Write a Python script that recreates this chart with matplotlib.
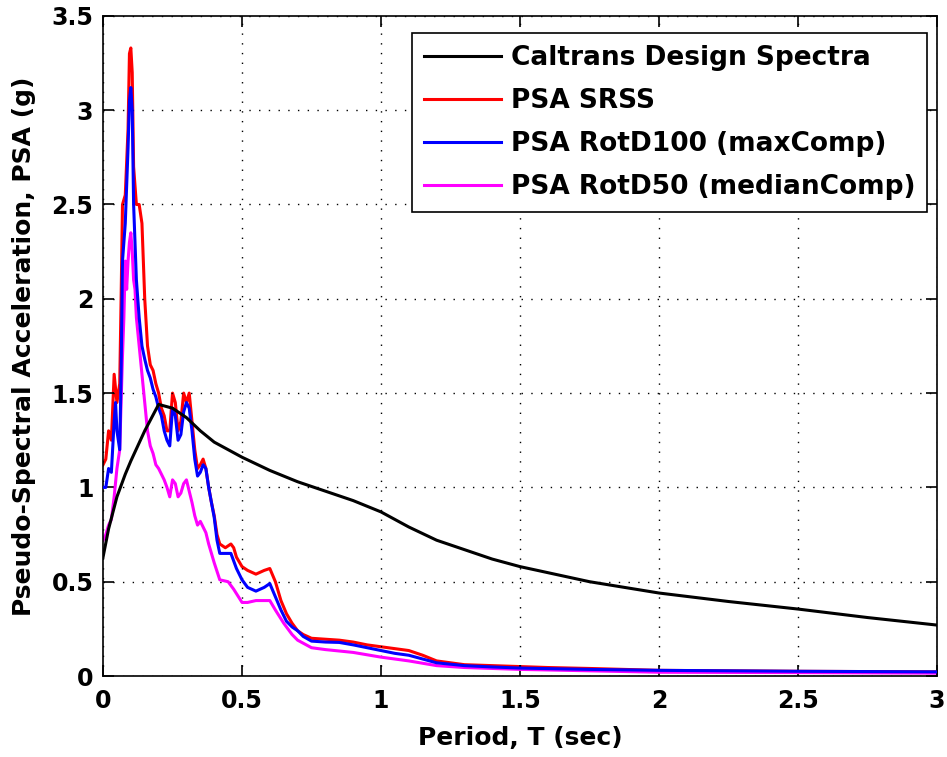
import matplotlib
matplotlib.use("Agg")
import matplotlib.pyplot as plt
from matplotlib.lines import Line2D

plt.rcParams['font.family'] = ['DejaVu Sans']
plt.rcParams['font.weight'] = 'bold'

# Caltrans design spectrum
T_design = [0.0, 0.02, 0.05, 0.08, 0.1, 0.15, 0.2, 0.25, 0.3, 0.35, 0.4, 0.5, 0.6, 0.7, 0.8,
            0.9, 1.0, 1.1, 1.2, 1.3, 1.4, 1.5, 1.75, 2.0, 2.25, 2.5, 2.75, 3.0]
psa_design = [0.63, 0.78, 0.95, 1.07, 1.14, 1.3, 1.44, 1.42, 1.37, 1.3, 1.24, 1.16, 1.09, 1.03, 0.98,
              0.93, 0.87, 0.79, 0.72, 0.67, 0.62, 0.58, 0.50, 0.44, 0.395, 0.355, 0.31, 0.27]

# PSA SRSS
T_srss = [0.0, 0.01, 0.02, 0.03, 0.04, 0.05, 0.06, 0.065, 0.07, 0.08, 0.09, 0.095, 0.1, 0.105, 0.11,
          0.12, 0.13, 0.14, 0.15, 0.16, 0.17, 0.18, 0.19, 0.2, 0.21, 0.22, 0.23, 0.24, 0.25, 0.26,
          0.27, 0.28, 0.29, 0.3, 0.31, 0.32, 0.33, 0.34, 0.35, 0.36, 0.37, 0.38, 0.39, 0.4, 0.41,
          0.42, 0.44, 0.46, 0.47, 0.48, 0.5, 0.52, 0.55, 0.58, 0.6, 0.62, 0.64, 0.66, 0.68, 0.7,
          0.72, 0.75, 0.8, 0.85, 0.9, 0.95, 1.0, 1.05, 1.1, 1.15, 1.2, 1.3, 1.4, 1.5, 1.6, 1.75,
          2.0, 2.5, 3.0]
psa_srss = [1.12, 1.15, 1.3, 1.25, 1.6, 1.45, 1.55, 2.0, 2.5, 2.55, 2.9, 3.3, 3.33, 3.2, 2.7,
            2.5, 2.5, 2.4, 2.0, 1.75, 1.65, 1.62, 1.55, 1.5, 1.42, 1.38, 1.3, 1.3, 1.5, 1.45,
            1.3, 1.35, 1.5, 1.45, 1.5, 1.35, 1.2, 1.1, 1.12, 1.15, 1.1, 1.0, 0.92, 0.85, 0.75,
            0.70, 0.68, 0.70, 0.68, 0.63, 0.58, 0.56, 0.54, 0.56, 0.57, 0.5, 0.40, 0.33, 0.28, 0.24,
            0.22, 0.20, 0.195, 0.19, 0.18, 0.165, 0.155, 0.145, 0.135, 0.11, 0.08, 0.06, 0.055, 0.05, 0.045, 0.04,
            0.03, 0.025, 0.022]

# PSA RotD100 (maxComp)
T_d100 = [0.0, 0.01, 0.02, 0.03, 0.04, 0.045, 0.05, 0.06, 0.065, 0.07, 0.08, 0.085, 0.09, 0.095, 0.1,
          0.105, 0.11, 0.115, 0.12, 0.13, 0.14, 0.15, 0.16, 0.17, 0.18, 0.19, 0.2, 0.21, 0.22, 0.23,
          0.24, 0.25, 0.26, 0.27, 0.28, 0.29, 0.3, 0.31, 0.32, 0.33, 0.34, 0.35, 0.36, 0.37, 0.38,
          0.39, 0.4, 0.41, 0.42, 0.44, 0.46, 0.48, 0.5, 0.52, 0.55, 0.58, 0.6, 0.62, 0.64, 0.66,
          0.68, 0.7, 0.72, 0.75, 0.8, 0.85, 0.9, 0.95, 1.0, 1.05, 1.1, 1.15, 1.2, 1.3, 1.4, 1.5,
          1.75, 2.0, 2.5, 3.0]
psa_d100 = [1.0, 1.0, 1.1, 1.08, 1.35, 1.45, 1.3, 1.2, 1.6, 2.2, 2.4, 2.6, 2.8, 3.05, 3.12,
            3.0, 2.5, 2.3, 2.1, 1.9, 1.75, 1.68, 1.62, 1.58, 1.52, 1.48, 1.42, 1.38, 1.3, 1.25,
            1.22, 1.42, 1.38, 1.25, 1.28, 1.4, 1.45, 1.42, 1.3, 1.15, 1.06, 1.08, 1.12, 1.1, 1.0,
            0.92, 0.84, 0.72, 0.65, 0.65, 0.65, 0.57, 0.51, 0.47, 0.45, 0.47, 0.49, 0.42, 0.35, 0.29,
            0.26, 0.24, 0.21, 0.185, 0.18, 0.178, 0.165, 0.15, 0.135, 0.12, 0.11, 0.09, 0.07, 0.055, 0.048, 0.042,
            0.035, 0.03, 0.025, 0.022]

# PSA RotD50 (medianComp)
T_d50 = [0.0, 0.01, 0.02, 0.03, 0.04, 0.05, 0.06, 0.065, 0.07, 0.075, 0.08, 0.085, 0.09, 0.095, 0.1,
         0.105, 0.11, 0.115, 0.12, 0.13, 0.14, 0.15, 0.16, 0.17, 0.18, 0.19, 0.2, 0.21, 0.22, 0.23,
         0.24, 0.25, 0.26, 0.27, 0.28, 0.29, 0.3, 0.31, 0.32, 0.33, 0.34, 0.35, 0.36, 0.37, 0.38,
         0.4, 0.42, 0.45, 0.47, 0.5, 0.52, 0.55, 0.6, 0.62, 0.65, 0.68, 0.7, 0.75, 0.8, 0.9,
         1.0, 1.05, 1.1, 1.2, 1.3, 1.5, 2.0, 2.5, 3.0]
psa_d50 = [0.72, 0.75, 0.8, 0.83, 0.95, 1.1, 1.2, 1.45, 1.7, 1.9, 2.2, 2.05, 2.2, 2.3, 2.35,
           2.25, 2.1, 2.05, 1.9, 1.75, 1.6, 1.45, 1.3, 1.22, 1.18, 1.12, 1.1, 1.07, 1.04, 1.0,
           0.95, 1.04, 1.02, 0.95, 0.97, 1.02, 1.04, 0.98, 0.92, 0.85, 0.80, 0.82, 0.79, 0.76, 0.70,
           0.60, 0.51, 0.50, 0.46, 0.39, 0.39, 0.40, 0.40, 0.35, 0.28, 0.22, 0.19, 0.15, 0.14, 0.125,
           0.10, 0.09, 0.08, 0.055, 0.045, 0.035, 0.02, 0.018, 0.015]

x_ticks = [0, 0.5, 1, 1.5, 2, 2.5, 3]
x_ticklabels = ['0', '0.5', '1', '1.5', '2', '2.5', '3']
y_ticks = [0, 0.5, 1, 1.5, 2, 2.5, 3, 3.5]
y_ticklabels = ['0', '0.5', '1', '1.5', '2', '2.5', '3', '3.5']

fig = plt.figure(figsize=(9.47, 7.57), dpi=100)
ax = fig.add_axes([0.1088, 0.107, 0.8806, 0.872])

lw = 2.2
ax.plot(T_d100, psa_d100, color='#0000ff', lw=lw, zorder=3)
ax.plot(T_d50, psa_d50, color='#ff00ff', lw=lw, zorder=2)
ax.plot(T_srss, psa_srss, color='#ff0000', lw=lw, zorder=1)
ax.plot(T_design, psa_design, color='black', lw=lw, zorder=4)

ax.set_xlim(0, 3)
ax.set_ylim(0, 3.5)
ax.set_xticks(x_ticks)
ax.set_xticklabels(x_ticklabels)
ax.set_yticks(y_ticks)
ax.set_yticklabels(y_ticklabels)
ax.tick_params(direction='in', top=True, right=True, length=8, width=1.2, labelsize=17)
ax.tick_params(axis='x', pad=9)
ax.tick_params(axis='y', pad=7)
for lab in ax.get_xticklabels() + ax.get_yticklabels():
    lab.set_fontweight('bold')
for s in ax.spines.values():
    s.set_linewidth(1.2)
ax.grid(True, linestyle=(0, (1, 6)), color='black', linewidth=1.0)

ax.set_xlabel('Period, T (sec)', fontsize=18, fontweight='bold', labelpad=10)
ax.set_ylabel('Pseudo-Spectral Acceleration, PSA (g)', fontsize=18, fontweight='bold', labelpad=11)

handles = [Line2D([], [], color='black', lw=lw),
           Line2D([], [], color='#ff0000', lw=lw),
           Line2D([], [], color='#0000ff', lw=lw),
           Line2D([], [], color='#ff00ff', lw=lw)]
labels = ['Caltrans Design Spectra', 'PSA SRSS', 'PSA RotD100 (maxComp)', 'PSA RotD50 (medianComp)']
leg = ax.legend(handles, labels, loc='upper right', bbox_to_anchor=(0.979, 0.956),
                bbox_transform=fig.transFigure, fancybox=False, framealpha=1,
                edgecolor='black', prop={'size': 19, 'weight': 'bold'},
                handlelength=2.9, handletextpad=0.38, labelspacing=0.64, borderpad=0.45,
                borderaxespad=0)
leg.get_frame().set_linewidth(1.2)

fig.savefig('out.png', dpi=100)
